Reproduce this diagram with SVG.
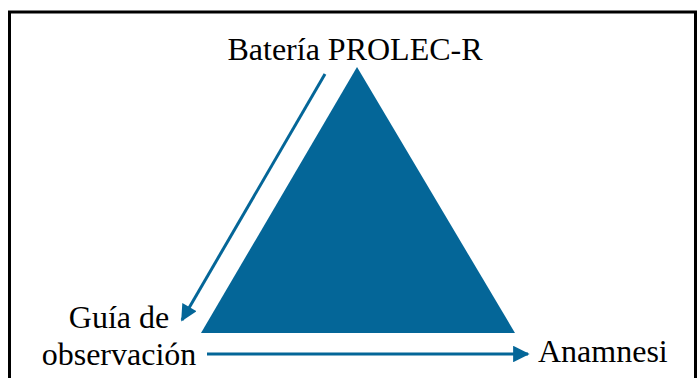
<svg xmlns="http://www.w3.org/2000/svg" width="698" height="378" viewBox="0 0 698 378">
<defs>
<style>
text{font-family:"Liberation Serif","Times New Roman",Times,serif;font-size:32px;fill:#000}
.c{stroke:#046698;stroke-width:3;fill:none}
</style>
<marker id="ah" viewBox="0 0 10 10" refX="9" refY="5" markerWidth="6" markerHeight="5.5" orient="auto" markerUnits="strokeWidth">
<path d="M0,0 L10,5 L0,10 z" fill="#046698"/>
</marker>
</defs>
<rect x="9.5" y="12" width="686" height="370" fill="#fff" stroke="#000" stroke-width="3"/>
<g id="triangle">
<polygon points="357,67 201,333 515,333" fill="#046698"/>
</g>
<g id="connectors">
<line class="c" x1="325" y1="74" x2="182" y2="320" marker-end="url(#ah)"/>
<line class="c" x1="207" y1="354" x2="528" y2="354" marker-end="url(#ah)"/>
</g>
<g id="node-prolec">
<text font-family="Liberation Serif, serif" x="355" y="60" text-anchor="middle">Batería PROLEC-R</text>
</g>
<g id="node-guia">
<text font-family="Liberation Serif, serif" x="119" y="328" text-anchor="middle">Guía de</text>
<text font-family="Liberation Serif, serif" x="119" y="365" text-anchor="middle">observación</text>
</g>
<g id="node-anamnesi">
<text font-family="Liberation Serif, serif" x="538" y="362">Anamnesi</text>
</g>
</svg>
